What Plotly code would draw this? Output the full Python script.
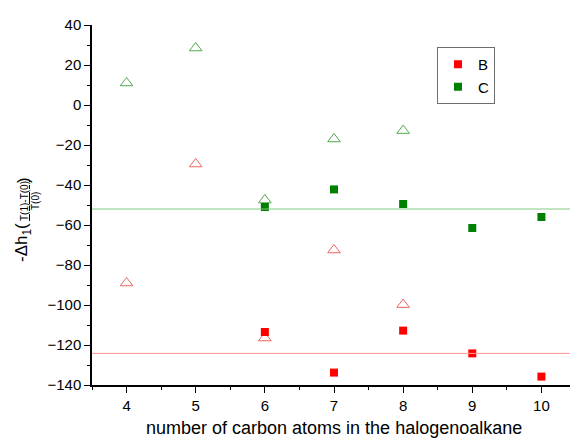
import plotly.graph_objects as go

# Filled squares (series B and C)
b_x = [6, 7, 8, 9, 10]
b_y = [-113.5, -133.8, -112.8, -124.2, -135.8]
c_x = [6, 7, 8, 9, 10]
c_y = [-51.0, -42.2, -49.5, -61.5, -56.0]

# Open triangles (companion values)
b_tri_x = [4, 5, 6, 7, 8]
b_tri_y = [-89.0, -29.5, -116.5, -72.5, -99.8]
c_tri_x = [4, 5, 6, 7, 8]
c_tri_y = [11.0, 28.5, -47.5, -17.0, -12.8]

# Horizontal reference lines
b_mean = -124.2
c_mean = -52.0

x_ticks = [4, 5, 6, 7, 8, 9, 10]
y_ticks = [-140, -120, -100, -80, -60, -40, -20, 0, 20, 40]

fig = go.Figure()

fig.add_hline(y=c_mean, line=dict(color="rgb(130,200,130)", width=1))
fig.add_hline(y=b_mean, line=dict(color="rgb(255,150,150)", width=1))

fig.add_trace(go.Scatter(x=c_tri_x, y=c_tri_y, mode="markers", showlegend=False,
                         marker=dict(symbol="triangle-up-open", size=11,
                                     color="rgb(80,170,80)", line=dict(width=1))))
fig.add_trace(go.Scatter(x=b_tri_x, y=b_tri_y, mode="markers", showlegend=False,
                         marker=dict(symbol="triangle-up-open", size=11,
                                     color="rgb(240,100,100)", line=dict(width=1))))
fig.add_trace(go.Scatter(x=b_x, y=b_y, mode="markers", name="B",
                         marker=dict(symbol="square", size=8, color="rgb(255,0,0)")))
fig.add_trace(go.Scatter(x=c_x, y=c_y, mode="markers", name="C",
                         marker=dict(symbol="square", size=8, color="rgb(0,128,0)")))

font = "Liberation Sans, Arial, sans-serif"

# plot area in page pixels: x 92..576, y 25..385 (page body has 8px margin)
def px(X):
    return X - 92

def py(Y):
    return (385 - Y) / 360

ann = [
    dict(text="-Δh<sub>1</sub>(", x=0, xshift=px(23), y=py(243), font=dict(size=17)),
    dict(text="<u>T(1)-T(0)</u>", x=0, xshift=px(24), y=py(201), font=dict(size=10)),
    dict(text="T(0)", x=0, xshift=px(35), y=py(201), font=dict(size=10)),
    dict(text=")", x=0, xshift=px(23), y=py(180), font=dict(size=17)),
]
annotations = []
for a in ann:
    a.update(xref="paper", yref="paper", textangle=-90, showarrow=False,
             xanchor="center", yanchor="middle")
    annotations.append(a)
annotations.append(dict(text="number of carbon atoms in the halogenoalkane",
                        xref="paper", yref="paper", x=0, xshift=px(334), y=py(428),
                        xanchor="center", yanchor="middle", showarrow=False,
                        font=dict(size=18)))

fig.update_layout(
    width=570, height=434,
    margin=dict(l=84, r=2, t=17, b=57, autoexpand=False),
    paper_bgcolor="white", plot_bgcolor="white",
    font=dict(family=font, size=15, color="black"),
    legend=dict(x=(437 - 92) / 484, y=py(47), xanchor="left", yanchor="top",
                bordercolor="rgb(110,110,110)", borderwidth=1,
                font=dict(size=15), bgcolor="white",
                itemwidth=30, tracegroupgap=0),
    xaxis=dict(range=[3.5, 10.5], tickvals=x_ticks, showgrid=False, zeroline=False,
               showline=True, linecolor="black", linewidth=1.5,
               ticks="outside", ticklen=6, tickcolor="black", automargin=False,
               minor=dict(dtick=0.5, tick0=3.5, ticks="outside", ticklen=3, tickcolor="black")),
    yaxis=dict(range=[-140, 40], tickvals=y_ticks, showgrid=False, zeroline=False,
               showline=True, linecolor="black", linewidth=1.5,
               ticks="outside", ticklen=6, tickcolor="black", automargin=False,
               minor=dict(dtick=10, ticks="outside", ticklen=3, tickcolor="black")),
    annotations=annotations,
)

fig.write_html("out.html")
